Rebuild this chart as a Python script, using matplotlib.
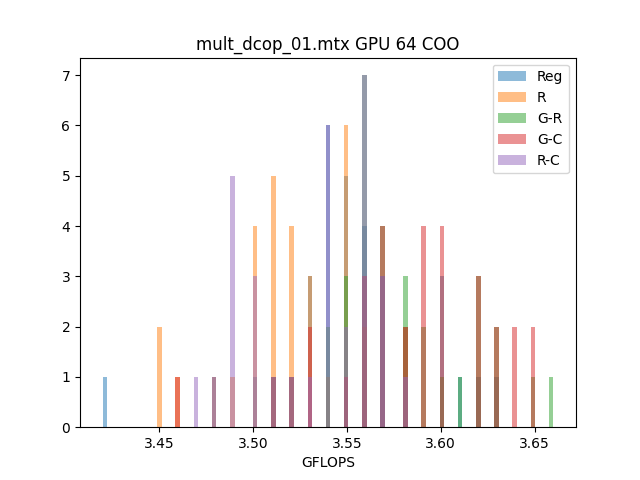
import numpy as np
import matplotlib
matplotlib.use('Agg')
import matplotlib.pyplot as plt

# measured GFLOPS values (0.01 steps) and how many runs hit each one
gflops = [3.42, 3.45, 3.46, 3.47, 3.48, 3.49, 3.50, 3.51, 3.52, 3.53, 3.54, 3.55,
          3.56, 3.57, 3.58, 3.59, 3.60, 3.61, 3.62, 3.63, 3.64, 3.65, 3.66]

reg = [1, 0, 0, 0, 1, 0, 1, 0, 0, 3, 6, 5, 4, 3, 2, 0, 3, 1, 1, 1, 0, 0, 0]
r   = [0, 2, 1, 0, 1, 1, 4, 5, 4, 3, 1, 6, 2, 0, 2, 0, 0, 0, 0, 0, 0, 0, 0]
g_r = [0, 0, 0, 0, 0, 0, 0, 1, 1, 0, 2, 3, 7, 4, 3, 2, 1, 1, 3, 2, 0, 1, 1]
g_c = [0, 0, 1, 0, 0, 0, 0, 1, 1, 2, 0, 1, 3, 4, 2, 4, 4, 0, 3, 2, 2, 2, 0]
r_c = [0, 0, 0, 1, 1, 5, 3, 1, 1, 1, 6, 2, 7, 3, 1, 0, 0, 0, 0, 0, 0, 0, 0]

labels = ['Reg', 'R', 'G-R', 'G-C', 'R-C']
series = [reg, r, g_r, g_c, r_c]

# 99 bins shared by all runs (tiny nudge so values on an edge land in the upper bin)
bins = np.linspace(min(gflops) - 1e-9, max(gflops), 100)

fig, ax = plt.subplots(figsize=(6.4, 4.8), dpi=100)
for counts, lab in zip(series, labels):
    ax.hist(gflops, bins=bins, weights=counts, alpha=0.5, label=lab)

ax.set_title('mult_dcop_01.mtx GPU 64 COO')
ax.set_xlabel('GFLOPS')
ax.legend(loc='upper right')

fig.savefig('out.png')
